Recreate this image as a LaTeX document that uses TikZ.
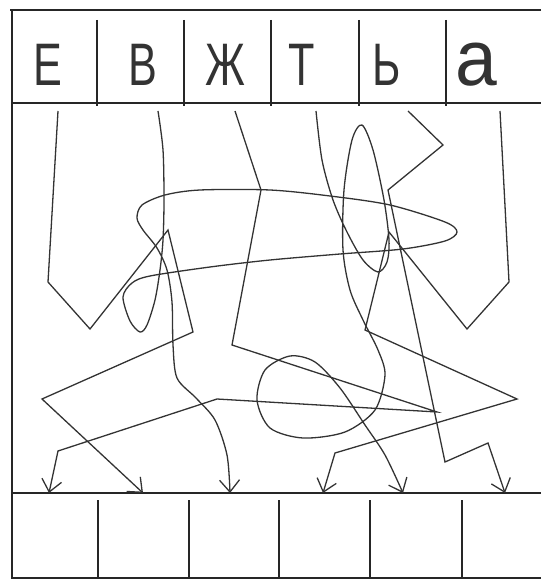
\documentclass[tikz,border=0pt]{standalone}
\usepackage{fontspec}
\usepackage{graphicx}
\setsansfont{Liberation Sans}
\usetikzlibrary{arrows.meta,positioning}

\newcommand{\narrowglyph}[1]{\scalebox{0.72}[1]{#1}}

\tikzset{
    frame/.style={draw=black!85,line width=2.6pt},
    divider/.style={draw=black!85,line width=2pt},
    letter/.style={anchor=base,inner sep=0pt,text=black!80,font=\sffamily\fontsize{60}{60}\selectfont},
    wire/.style={draw=black!80,line width=1.3pt,->}
}

\begin{document}
\begin{tikzpicture}[x=1pt,y=-1pt,>={Straight Barb[length=12pt,width=20pt]},font=\sffamily]
    \useasboundingbox (0,0) rectangle (541,580);
    \draw [frame] (541,10) -- (10,10);
    \draw [frame] (12,10) -- (12,578) -- (541,578);
    \draw [frame] (12,103) -- (541,103);
    \draw [frame] (12,493) -- (541,493);
    \foreach \x in {97,184,271,359,446}
        \draw [divider] (\x,20) -- (\x,106);
    \foreach \x in {98,189,279,370,462}
        \draw [divider] (\x,500) -- (\x,578);
    \foreach \x/\name/\glyph in {48/ye/Е,143/ve/В,225/zhe/Ж,302/te/Т,387/soft/Ь}
        \node [letter] (\name) at (\x,86) {\narrowglyph{\glyph}};
    \node [letter,font=\sffamily\fontsize{79}{79}\selectfont] (a) at (476,86) {\scalebox{0.95}[1]{а}};
    % start and end of every wire
    \foreach \x/\name in {58/ye,158/ve,235/zhe,316/te,408/soft,500/a}
        \coordinate (s-\name) at (\x,111);
    \foreach \x [count=\i] in {49,143,230,323,403,505}
        \coordinate (c\i) at (\x,493);
    \draw [wire] (s-ye) -- (48,282) -- (90,329) -- (168,230) -- (193,332) -- (42,399) -- (c2);
    \draw [wire] plot [smooth] coordinates {(s-ve) (163,150) (164,200) (163,240) (160,270) (155,300) (147,325) (140,332) (130,321) (123,297) (132,283) (150,276) (210,267) (270,260) (340,254) (403,249) (445,241) (457,232) (445,222) (390,205) (330,196) (270,190) (200,190) (165,195) (142,205) (137,218) (143,230) (157,248) (167,270) (172,302) (173,345) (177,378) (196,398) (215,420) (227,455) (c3)};
    \draw [wire] (s-zhe) -- (261,190) -- (232,345) -- (437,412) -- (217,399) -- (58,451) -- (c1);
    \draw [wire] plot [smooth] coordinates {(s-te) (322,160) (333,200) (347,232) (363,260) (378,272) (387,262) (389,240) (384,200) (373,150) (362,125) (352,140) (344,190) (343,250) (350,290) (363,320) (378,350) (385,375) (375,410) (345,432) (303,438) (270,428) (257,400) (265,370) (290,356) (315,362) (340,388) (365,425) (385,455) (c5)};
    \draw [wire] (s-soft) -- (443,145) -- (388,190) -- (445,462) -- (488,443) -- (c6);
    \draw [wire] (s-a) -- (509,282) -- (467,329) -- (389,232) -- (365,330) -- (517,399) -- (335,453) -- (c4);
\end{tikzpicture}
\end{document}
